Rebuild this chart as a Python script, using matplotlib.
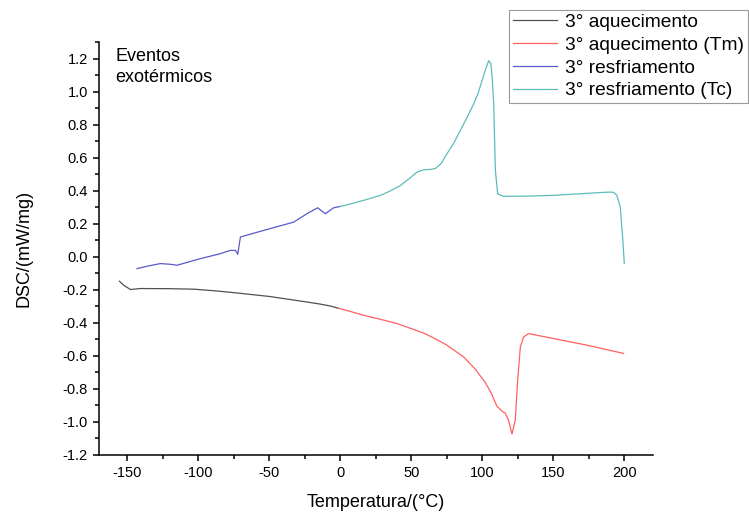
import matplotlib
matplotlib.use("Agg")
import matplotlib.pyplot as plt
from matplotlib.ticker import MultipleLocator, FormatStrFormatter

plt.rcParams['font.family'] = ['Liberation Sans', 'DejaVu Sans']
plt.rcParams['axes.unicode_minus'] = False

# 3° aquecimento (black)
t_aq = [-155.6, -152.6, -147.9, -140.8, -120, -103, -86.8, -72.7, -50, -28, -15, -7, -1.2]
v_aq = [-0.148, -0.172, -0.198, -0.192, -0.193, -0.196, -0.207, -0.219, -0.240, -0.268, -0.285, -0.298, -0.312]

# 3° aquecimento (Tm) (red)
t_tm = [-1.2, 8, 16.4, 28, 39.9, 50, 58.7, 67, 75.1, 86.8, 95, 102, 106, 110.3, 114, 116.2, 118.5,
        120.9, 123.2, 124.9, 126.8, 129.1, 132.6, 150.2, 173.7, 199.5]
v_tm = [-0.312, -0.333, -0.354, -0.378, -0.404, -0.435, -0.462, -0.497, -0.535, -0.606, -0.68, -0.76,
        -0.82, -0.905, -0.935, -0.948, -0.99, -1.073, -0.99, -0.747, -0.545, -0.485, -0.465,
        -0.495, -0.535, -0.585]

# 3° resfriamento (blue)
t_rf = [-143.2, -135, -126.8, -120, -115, -98.6, -85, -77.5, -73.9, -72.3, -70.4, -54, -32.9,
        -23.5, -16, -10.6, -4.7, 0]
v_rf = [-0.071, -0.055, -0.041, -0.045, -0.051, -0.011, 0.018, 0.039, 0.039, 0.015, 0.12, 0.16,
        0.21, 0.261, 0.297, 0.261, 0.297, 0.305]

# 3° resfriamento (Tc) (cyan)
t_tc = [0, 8, 16.4, 28.2, 35, 42.3, 48, 54, 58.7, 63.4, 67, 71, 75.1, 80, 84.5, 89, 93.9, 97,
        99.8, 102.5, 104.5, 106.1, 107, 108, 109.2, 110.8, 115, 133.8, 150, 169, 185, 190.1,
        192.5, 194.8, 197.2, 197.9, 199, 200]
v_tc = [0.305, 0.322, 0.342, 0.372, 0.398, 0.432, 0.47, 0.513, 0.527, 0.529, 0.535, 0.565, 0.624,
        0.69, 0.765, 0.84, 0.926, 0.99, 1.067, 1.14, 1.188, 1.168, 1.08, 0.926, 0.523, 0.382,
        0.366, 0.368, 0.372, 0.382, 0.39, 0.392, 0.39, 0.372, 0.301, 0.22, 0.1, -0.04]

fig = plt.figure(figsize=(7.49, 5.2), dpi=100)
ax = fig.add_axes([0.1322, 0.125, 0.7392, 0.794])

ax.plot(t_aq, v_aq, color='#505050', lw=0.9, label='3° aquecimento')
ax.plot(t_tm, v_tm, color='#ff6060', lw=0.9, label='3° aquecimento (Tm)')
ax.plot(t_rf, v_rf, color='#5a5ac8', lw=0.9, label='3° resfriamento')
ax.plot(t_tc, v_tc, color='#5cbcbc', lw=0.9, label='3° resfriamento (Tc)')

ax.set_xlim(-170, 220)
ax.set_ylim(-1.2, 1.3)
ax.set_xticks([-150, -100, -50, 0, 50, 100, 150, 200])
ax.set_yticks([-1.2, -1.0, -0.8, -0.6, -0.4, -0.2, 0.0, 0.2, 0.4, 0.6, 0.8, 1.0, 1.2])
ax.xaxis.set_minor_locator(MultipleLocator(25))
ax.yaxis.set_minor_locator(MultipleLocator(0.1))
ax.yaxis.set_major_formatter(FormatStrFormatter('%.1f'))

for s in ['top', 'right']:
    ax.spines[s].set_visible(False)
for s in ['left', 'bottom']:
    ax.spines[s].set_linewidth(1.1)
ax.tick_params(which='major', direction='out', length=4.5, width=1.1, labelsize=10.5)
ax.tick_params(which='minor', direction='out', length=3, width=1.1)

ax.set_xlabel('Temperatura/(°C)', fontsize=13, labelpad=10)
ax.set_ylabel('DSC/(mW/mg)', fontsize=13, labelpad=22)

ax.text(0.03, 0.985, 'Eventos\nexotérmicos', transform=ax.transAxes, fontsize=13,
        va='top', ha='left', linespacing=1.3)

leg = fig.legend(loc='upper right', bbox_to_anchor=(0.998, 0.981), fontsize=13.8,
                 frameon=True, fancybox=False, edgecolor='#808080', borderpad=0.2,
                 handlelength=2.3, handletextpad=0.4, labelspacing=0.28, borderaxespad=0)
leg.get_frame().set_linewidth(0.8)

fig.savefig('out.png', dpi=100)
